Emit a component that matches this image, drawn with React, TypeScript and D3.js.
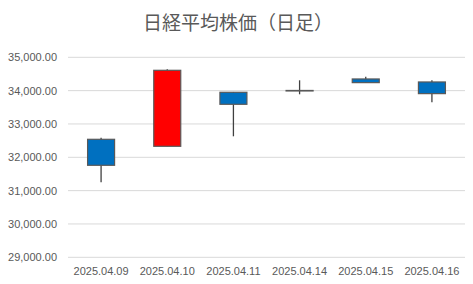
import React from "react";
import * as d3 from "d3";

const dates = ["2025.04.09", "2025.04.10", "2025.04.11", "2025.04.14", "2025.04.15", "2025.04.16"];
const opens = [32540, 32330, 33950, 34005, 34350, 34260];
const highs = [32590, 34640, 33960, 34310, 34420, 34310];
const lows = [31250, 32330, 32630, 33890, 34240, 33650];
const closes = [31760, 34610, 33590, 33990, 34240, 33910];
const yTicks = [29000, 30000, 31000, 32000, 33000, 34000, 35000];
const title = "日経平均株価（日足）";

const W = 473;
const H = 284;

export default function App() {
  const x = d3.scaleBand<string>().domain(dates).range([68, 465]);
  const y = d3.scaleLinear().domain([29000, 35000]).range([257.3, 57.3]);
  const fmt = d3.format(",.2f");
  const bw = 27;
  const font = "'Liberation Sans', Arial, sans-serif";
  return (
    <svg width={W} height={H} style={{ position: "absolute", left: 0, top: 0, background: "#fff" }}>
      <text x={238} y={30} textAnchor="middle" fontSize={19} fill="#595959"
        fontFamily="'Noto Sans CJK JP', sans-serif">{title}</text>
      {yTicks.map((t) => (
        <g key={t}>
          <line x1={68} x2={465} y1={y(t)} y2={y(t)} stroke="#d9d9d9" strokeWidth={1} />
          <text x={57} y={y(t) + 4} textAnchor="end" fontSize={11} fill="#595959" fontFamily={font}>{fmt(t)}</text>
        </g>
      ))}
      {dates.map((d, i) => {
        const cx = (x(d) as number) + x.bandwidth() / 2;
        const o = opens[i], c = closes[i];
        const top = y(Math.max(o, c));
        const bot = y(Math.min(o, c));
        const up = c > o;
        return (
          <g key={d}>
            <line x1={cx} x2={cx} y1={y(highs[i])} y2={y(lows[i])} stroke="#404040" strokeWidth={1.3} />
            <rect x={cx - bw / 2} y={top} width={bw} height={Math.max(bot - top, 0.5)}
              fill={up ? "#FF0000" : "#0070C0"} stroke="#595959" strokeWidth={1.2} />
            <text x={cx} y={275} textAnchor="middle" fontSize={11} fill="#595959" fontFamily={font}>{d}</text>
          </g>
        );
      })}
    </svg>
  );
}
